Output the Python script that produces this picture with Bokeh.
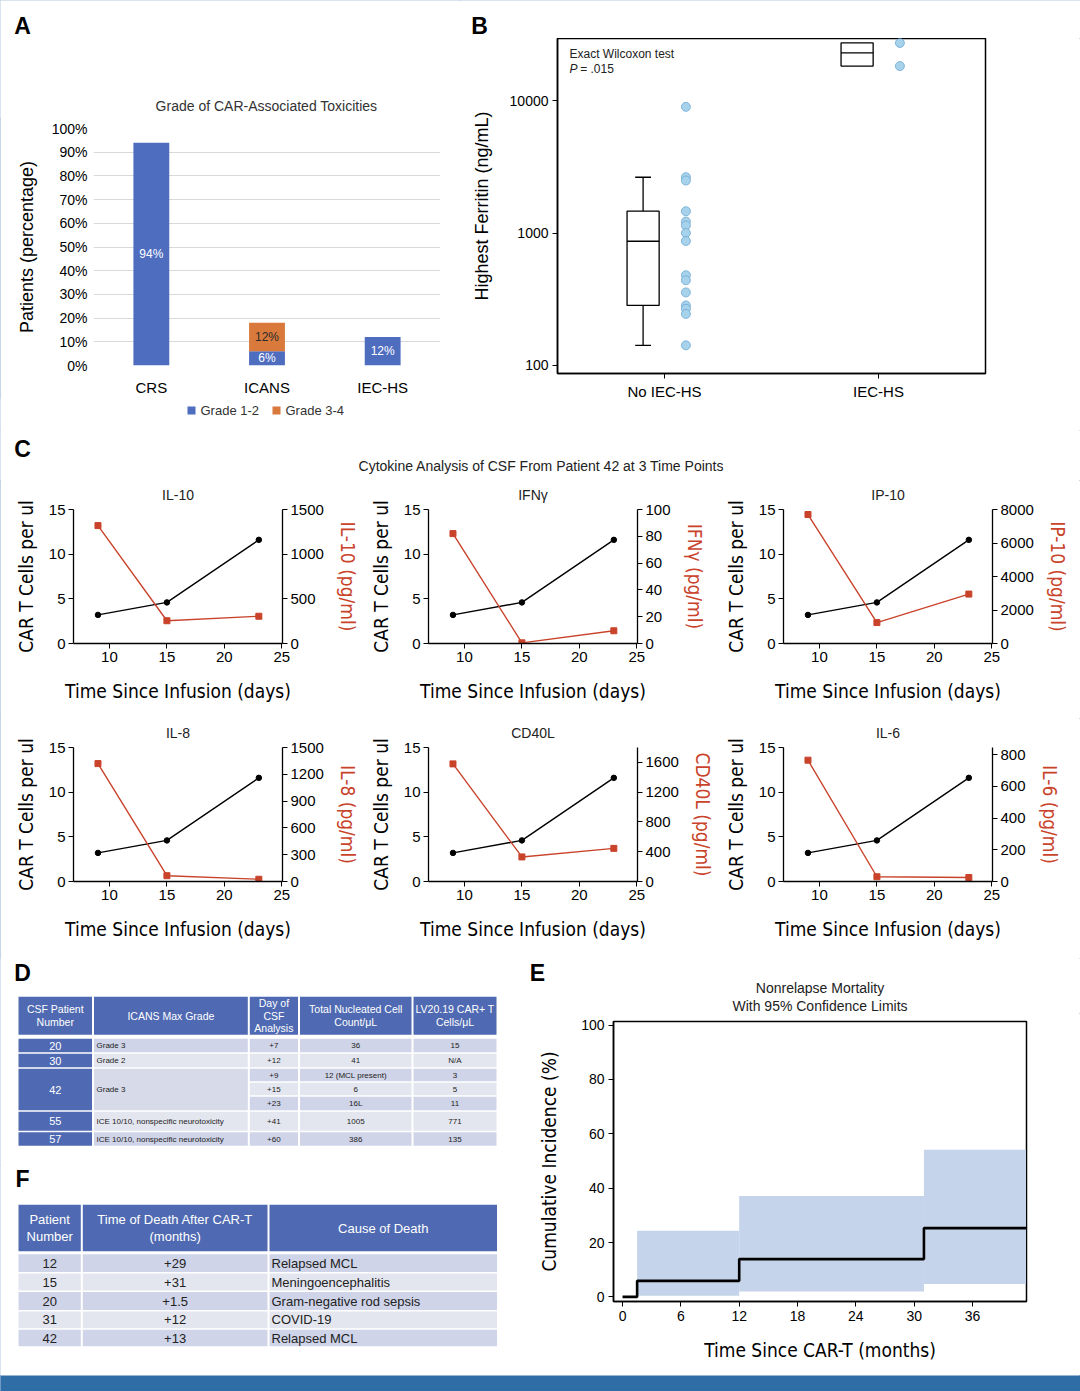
import numpy as np
from bokeh.plotting import figure
from bokeh.layouts import column, row
from bokeh.models import (ColumnDataSource, Range1d, FactorRange, LinearAxis, FixedTicker,
                          PrintfTickFormatter)
from bokeh.core.properties import value
from bokeh.embed import file_html
from bokeh.resources import INLINE

FONT = "Liberation Sans"
NARROW = "DejaVu Sans Condensed, Liberation Sans Narrow, Roboto, sans-serif"

"""Panel A: toxicity grades"""
toxicities = ["CRS", "ICANS", "IEC-HS"]
grade_names = ["Grade 1-2", "Grade 3-4"]
grade_1_2 = [94, 6, 12]
grade_3_4 = [0, 12, 0]

"""Panel B: highest ferritin"""
box_groups = ["No IEC-HS", "IEC-HS"]
ferritin_no_iec = [8960, 2640, 2490, 1460, 1220, 1140, 1000, 870, 480, 440, 356, 284, 268, 245, 142]
ferritin_iec = [27200, 18200]
box_q1 = [284, 18200]
box_median = [867, 22900]
box_q3 = [1462, 27200]
whisker_low = [142, None]
whisker_high = [2636, None]

"""Panel C: CSF cytokines of patient 42"""
days = [9, 15, 23]
car_t_cells = [3.2, 4.6, 11.6]
cytokine_names = ["IL-10", "IFNγ", "IP-10", "IL-8", "CD40L", "IL-6"]
il10 = [1320, 255, 305]
ifng = [82, 0.5, 9.5]
ip10 = [7700, 1250, 2950]
il8 = [1320, 65, 25]
cd40l = [1580, 330, 445]
il6 = [765, 30, 25]
cytokine_max = [1500, 100, 8000, 1500, 1800, 845]
cytokine_step = [500, 20, 2000, 300, 400, 200]

"""Panel D: CSF table"""
d_headers = ["CSF Patient\nNumber", "ICANS Max Grade", "Day of\nCSF\nAnalysis",
             "Total Nucleated Cell\nCount/μL", "LV20.19 CAR+ T\nCells/μL"]
d_patients = ["20", "30", "42", "55", "57"]
d_grades = ["Grade 3", "Grade 2", "Grade 3", "ICE 10/10, nonspecific neurotoxicity",
            "ICE 10/10, nonspecific neurotoxicity"]
d_samples = [1, 1, 3, 1, 1]
d_days = ["+7", "+12", "+9", "+15", "+23", "+41", "+60"]
d_nucleated = ["36", "41", "12 (MCL present)", "6", "16L", "1005", "386"]
d_car_t = ["15", "N/A", "3", "5", "11", "771", "135"]

"""Panel E: nonrelapse mortality"""
cif_time = [0, 1.5, 12, 31]
cif_value = [0, 5.9, 13.9, 25.3]
ci_lower = [0.4, 2.0, 4.7]
ci_upper = [24.3, 37.1, 54.1]
follow_up_end = 41.5

"""Panel F: deaths table"""
f_headers = ["Patient\nNumber", "Time of Death After CAR-T\n(months)", "Cause of Death"]
f_patients = ["12", "15", "20", "31", "42"]
f_time = ["+29", "+31", "+1.5", "+12", "+13"]
f_cause = ["Relapsed MCL", "Meningoencephalitis", "Gram-negative rod sepsis", "COVID-19", "Relapsed MCL"]

BLUE = "#4e6dbf"
ORANGE = "#d9793c"
RED = "#c9432b"
HEAD = "#4f6ab2"
ROW_DARK = "#cfd4e8"
ROW_LIGHT = "#e4e6ef"
ROW_MID = "#d6dae9"
BAND = "#c5d4ea"
STRIP = "#2f6da7"


def new_fig(w, h, **kw):
    p = figure(width=w, height=h, output_backend="svg", toolbar_location=None, **kw)
    p.background_fill_color = "white"
    p.border_fill_color = "white"
    p.frame_align = False
    return p


def text_fig(w, h):
    """plain figure with pixel coordinates (y downwards) for headings"""
    p = new_fig(w, h, x_range=Range1d(0, w), y_range=Range1d(h, 0),
                x_axis_type=None, y_axis_type=None, min_border=0)
    p.outline_line_color = None
    p.grid.grid_line_color = None
    return p


def put(p, x, y, s, size="14px", align="center", style="normal", color="#222"):
    p.text(x=[x], y=[y], text=[s], text_font=value(FONT), text_font_size=size, text_align=align,
           text_baseline="middle", text_font_style=style, text_color=color)


def style_axis(ax, tick="14px", label="19px", label_font=FONT, color="black"):
    ax.major_label_text_font = FONT
    ax.major_label_text_font_size = tick
    ax.major_label_text_color = "black"
    ax.axis_label_text_font = label_font
    ax.axis_label_text_font_size = label
    ax.axis_label_text_font_style = "normal"
    ax.axis_label_text_color = color
    ax.minor_tick_line_color = None


"""A: stacked bars"""
ha = text_fig(460, 118)
put(ha, 22, 25, "A", size="23px", style="bold", color="black")
put(ha, 266, 105, "Grade of CAR-Associated Toxicities", size="14px", color="#333")

pa = new_fig(460, 280, x_range=FactorRange(*toxicities), y_range=Range1d(0, 100),
             min_border_left=93, min_border_right=20, min_border_top=10, min_border_bottom=25)
src_a = ColumnDataSource(dict(cat=toxicities, g12=grade_1_2, g34=grade_3_4))
pa.vbar_stack(["g12", "g34"], x="cat", width=0.31, color=[BLUE, ORANGE], source=src_a, line_color=None)
lab_x, lab_y, lab_t, lab_c = [], [], [], []
for c, a, b in zip(toxicities, grade_1_2, grade_3_4):
    if a > 0:
        lab_x.append(c); lab_y.append(a / 2); lab_t.append(f"{a}%"); lab_c.append("white")
    if b > 0:
        lab_x.append(c); lab_y.append(a + b / 2); lab_t.append(f"{b}%"); lab_c.append("#2a2a2a")
pa.text(x=lab_x, y=lab_y, text=lab_t, text_color=lab_c, text_align="center", text_baseline="middle",
        text_font=value(FONT), text_font_size="12px")
pa.xgrid.grid_line_color = None
pa.ygrid.grid_line_color = "#d9d9d9"
pa.ygrid.grid_line_width = 1.2
pa.outline_line_color = None
pa.yaxis.ticker = FixedTicker(ticks=list(range(0, 101, 10)))
pa.yaxis.formatter = PrintfTickFormatter(format="%d%%")
pa.yaxis.axis_label = "Patients (percentage)"
for ax in pa.xaxis + pa.yaxis:
    style_axis(ax, tick="14px", label="18px")
    ax.axis_line_color = None
    ax.major_tick_line_color = None
pa.yaxis.major_tick_out = 0
pa.yaxis.major_tick_in = 0
pa.yaxis.axis_label_standoff = 12
pa.yaxis.major_label_standoff = 6
pa.xaxis.major_label_text_font_size = "15px"
pa.xaxis.major_label_standoff = 7

"""A legend strip"""
la = text_fig(460, 32)
LEG_X = [191, 276]
la.scatter(x=LEG_X, y=[12, 12], marker="square", size=8, color=[BLUE, ORANGE], line_color=None)
la.text(x=[lx + 9 for lx in LEG_X], y=[12, 12], text=grade_names, text_font=value(FONT),
        text_font_size="13px", text_baseline="middle", text_color="#333")

"""B: ferritin box plot"""
hb = text_fig(620, 38)
put(hb, 19, 25, "B", size="23px", style="bold", color="black")

pb = new_fig(620, 392, x_range=Range1d(0.5, 2.5), y_range=Range1d(87, 29400), y_axis_type="log",
             min_border_left=97, min_border_right=95, min_border_top=0, min_border_bottom=57)
pos = np.arange(1, len(box_groups) + 1)
box_x = pos - 0.1
pb.vbar(x=box_x, bottom=box_q1, top=box_q3, width=0.15, fill_color="white",
        line_color="black", line_width=1.3)
pb.segment(x0=box_x - 0.075, x1=box_x + 0.075, y0=box_median, y1=box_median,
           line_color="black", line_width=1.3)
for i, (lo, hi) in enumerate(zip(whisker_low, whisker_high)):
    if lo is None:
        continue
    pb.segment(x0=[box_x[i]] * 2, x1=[box_x[i]] * 2, y0=[box_q3[i], box_q1[i]], y1=[hi, lo],
               line_color="black", line_width=1.3)
    pb.segment(x0=[box_x[i] - 0.037] * 2, x1=[box_x[i] + 0.037] * 2, y0=[hi, lo], y1=[hi, lo],
               line_color="black", line_width=1.3)
for i, vals in enumerate([ferritin_no_iec, ferritin_iec]):
    pb.scatter(x=[pos[i] + 0.1] * len(vals), y=vals, size=9, fill_color="#a6d2ec",
               line_color="#6fa8d0", line_width=0.8)
pb.text(x=[0.556], y=[22650], text=["Exact Wilcoxon test"], text_font=value(FONT),
        text_font_size="12px", text_baseline="middle", text_color="#222")
pb.text(x=[0.556], y=[17440], text=["P"], text_font=value(FONT), text_font_size="12px",
        text_font_style="italic", text_baseline="middle", text_color="#222")
pb.text(x=[0.606], y=[17440], text=["= .015"], text_font=value(FONT), text_font_size="12px",
        text_baseline="middle", text_color="#222")
pb.grid.grid_line_color = None
pb.outline_line_color = "black"
pb.outline_line_width = 1.5
pb.xaxis.ticker = FixedTicker(ticks=list(pos))
pb.xaxis.major_label_overrides = {int(k): g for k, g in zip(pos, box_groups)}
pb.yaxis.ticker = FixedTicker(ticks=[100, 1000, 10000], minor_ticks=[])
pb.yaxis.formatter = PrintfTickFormatter(format="%d")
pb.yaxis.axis_label = "Highest Ferritin (ng/mL)"
for ax in pb.xaxis + pb.yaxis:
    style_axis(ax, tick="14px", label="18px")
    ax.axis_line_width = 1.5
    ax.major_tick_out = 5
    ax.major_tick_in = 0
    ax.major_label_standoff = 4
pb.xaxis.major_label_text_font_size = "15px"
pb.yaxis.axis_label_standoff = 15

"""C: cytokine panels"""
C_LEFT = [73, 65, 65]
C_RIGHT = [81, 81, 88]
C_FRAME_W = 209

hc = text_fig(1080, 50)
put(hc, 22, 18, "C", size="23px", style="bold", color="black")
put(hc, 541, 35, "Cytokine Analysis of CSF From Patient 42 at 3 Time Points", size="14px")


def cytokine_plot(name, conc, ymax, step, left, right, h):
    w = left + C_FRAME_W + right
    p = new_fig(w, h, x_range=Range1d(6.87, 25.06), y_range=Range1d(0, 15),
                min_border_left=left, min_border_right=right,
                min_border_top=28, min_border_bottom=h - 28 - 135)
    p.title.text = name
    p.title.align = "center"
    p.title.vertical_align = "middle"
    p.title.standoff = 11
    p.title.text_font = FONT
    p.title.text_font_size = "14px"
    p.title.text_font_style = "normal"
    p.title.text_color = "#222"
    p.extra_y_ranges = {"cyto": Range1d(0, ymax)}
    rax = LinearAxis(y_range_name="cyto", ticker=FixedTicker(ticks=list(range(0, int(ymax) + 1, step))),
                     axis_label=f"{name} (pg/ml)")
    p.add_layout(rax, "right")
    p.line(days, car_t_cells, color="black", line_width=1.4)
    p.scatter(days, car_t_cells, size=5.5, color="black")
    p.line(days, conc, color=RED, line_width=1.4, y_range_name="cyto")
    p.scatter(days, conc, marker="square", size=6, color=RED, y_range_name="cyto")
    p.grid.grid_line_color = None
    p.outline_line_color = None
    p.xaxis.ticker = FixedTicker(ticks=[10, 15, 20, 25])
    p.left[0].ticker = FixedTicker(ticks=[0, 5, 10, 15])
    p.xaxis.axis_label = "Time Since Infusion (days)"
    p.left[0].axis_label = "CAR T Cells per ul"
    for ax in [p.below[0], p.left[0], rax]:
        style_axis(ax, tick="15px", label="19px", label_font=NARROW)
        ax.axis_line_width = 1.3
        ax.major_tick_out = 5
        ax.major_tick_in = 0
        ax.major_label_standoff = 3
        ax.axis_label_standoff = 10
    p.below[0].axis_label_standoff = 15
    p.left[0].axis_label_standoff = 9
    rax.axis_label_text_color = RED
    return p


conc_list = [il10, ifng, ip10, il8, cd40l, il6]
c_plots = []
for k, (nm, cv, mx, st) in enumerate(zip(cytokine_names, conc_list, cytokine_max, cytokine_step)):
    col = k % 3
    h = 238 if k < 3 else 240
    c_plots.append(cytokine_plot(nm, cv, mx, st, C_LEFT[col], C_RIGHT[col], h))

"""D: CSF table"""
D_COLS = [17, 92.5, 248.3, 298.5, 412, 497]
D_HEAD = (37.5, 77)
D_ROWS = [79.5, 94.5, 109.5, 123.5, 137.5, 152.5, 173, 188]
G = 1.0
pd_ = text_fig(520, 207)
q = dict(left=[], right=[], top=[], bottom=[], color=[])
t = dict(x=[], y=[], text=[], color=[], size=[], align=[])


def cell(store, l, r, tp, bt, col):
    store["left"].append(l + G); store["right"].append(r - G)
    store["top"].append(tp + G * 0.7); store["bottom"].append(bt - G * 0.7); store["color"].append(col)


def txt(store, x, y, s, col, size, align="center"):
    store["x"].append(x); store["y"].append(y); store["text"].append(s)
    store["color"].append(col); store["size"].append(size); store["align"].append(align)


for j, hd in enumerate(d_headers):
    cell(q, D_COLS[j], D_COLS[j + 1], D_HEAD[0], D_HEAD[1], HEAD)
    txt(t, (D_COLS[j] + D_COLS[j + 1]) / 2, sum(D_HEAD) / 2, hd, "white", "10.5px")
r0 = 0
for pid, grade, n in zip(d_patients, d_grades, d_samples):
    tp, bt = D_ROWS[r0], D_ROWS[r0 + n]
    cell(q, D_COLS[0], D_COLS[1], tp, bt, HEAD)
    txt(t, (D_COLS[0] + D_COLS[1]) / 2, (tp + bt) / 2, pid, "white", "11px")
    shade = ROW_MID if n > 1 else (ROW_DARK if r0 % 2 == 0 else ROW_LIGHT)
    cell(q, D_COLS[1], D_COLS[2], tp, bt, shade)
    txt(t, D_COLS[1] + 3.5, (tp + bt) / 2, grade, "#222", "8px", "left")
    r0 += n
for i, cols in enumerate(zip(d_days, d_nucleated, d_car_t)):
    tp, bt = D_ROWS[i], D_ROWS[i + 1]
    shade = ROW_DARK if i % 2 == 0 else ROW_LIGHT
    for j, s in enumerate(cols):
        cell(q, D_COLS[j + 2], D_COLS[j + 3], tp, bt, shade)
        txt(t, (D_COLS[j + 2] + D_COLS[j + 3]) / 2, (tp + bt) / 2, s, "#222", "8px")
pd_.quad(left="left", right="right", top="top", bottom="bottom", color="color",
         source=ColumnDataSource(q), line_color=None)
pd_.text(x="x", y="y", text="text", text_color="color", text_font_size="size", text_align="align",
         text_baseline="middle", text_font=value(FONT), text_line_height=1.05, source=ColumnDataSource(t))
put(pd_, 22, 14, "D", size="23px", style="bold", color="black")

"""F: deaths table"""
F_COLS = [17, 81.3, 268, 497.5]
F_HEAD = (38.5, 86.5)
F_ROWS = [88, 107.3, 125.8, 145.2, 163.5, 181.5]
pf = text_fig(520, 210)
q = dict(left=[], right=[], top=[], bottom=[], color=[])
t = dict(x=[], y=[], text=[], color=[], size=[], align=[])
for j, hd in enumerate(f_headers):
    cell(q, F_COLS[j], F_COLS[j + 1], F_HEAD[0], F_HEAD[1], HEAD)
    txt(t, (F_COLS[j] + F_COLS[j + 1]) / 2, sum(F_HEAD) / 2, hd, "white", "13px")
for i, (pid, tm, cause) in enumerate(zip(f_patients, f_time, f_cause)):
    tp, bt = F_ROWS[i], F_ROWS[i + 1]
    shade = ROW_DARK if i % 2 == 0 else ROW_LIGHT
    for j in range(3):
        cell(q, F_COLS[j], F_COLS[j + 1], tp, bt, shade)
    ym = (tp + bt) / 2
    txt(t, (F_COLS[0] + F_COLS[1]) / 2, ym, pid, "#222", "13px")
    txt(t, (F_COLS[1] + F_COLS[2]) / 2, ym, tm, "#222", "13px")
    txt(t, F_COLS[2] + 3, ym, cause, "#222", "13px", "left")
pf.quad(left="left", right="right", top="top", bottom="bottom", color="color",
        source=ColumnDataSource(q), line_color=None)
pf.text(x="x", y="y", text="text", text_color="color", text_font_size="size", text_align="align",
        text_baseline="middle", text_font=value(FONT), text_line_height=1.15, source=ColumnDataSource(t))
put(pf, 22, 13, "F", size="23px", style="bold", color="black")

"""E: cumulative incidence"""
he = text_fig(560, 55)
put(he, 17, 14, "E", size="23px", style="bold", color="black")
put(he, 299.5, 29, "Nonrelapse Mortality", size="14px")
put(he, 299.5, 47, "With 95% Confidence Limits", size="14px")

pe = new_fig(560, 362, x_range=Range1d(-0.93, 41.55), y_range=Range1d(-1.7, 101.3),
             min_border_left=93, min_border_right=54, min_border_top=8, min_border_bottom=74)
pe.quad(left=cif_time[1:], right=cif_time[2:] + [follow_up_end], bottom=ci_lower, top=ci_upper,
        color=BAND, line_color=None)
pe.step(x=cif_time + [follow_up_end], y=cif_value + [cif_value[-1]], mode="after",
        line_color="black", line_width=2.6)
pe.grid.grid_line_color = None
pe.outline_line_color = "black"
pe.outline_line_width = 1.5
pe.xaxis.ticker = FixedTicker(ticks=list(range(0, 37, 6)))
pe.yaxis.ticker = FixedTicker(ticks=list(range(0, 101, 20)))
pe.xaxis.axis_label = "Time Since CAR-T (months)"
pe.yaxis.axis_label = "Cumulative Incidence (%)"
for ax in pe.xaxis + pe.yaxis:
    style_axis(ax, tick="14px", label="19px", label_font=NARROW)
    ax.axis_line_width = 1.5
    ax.major_tick_out = 5
    ax.major_tick_in = 0
    ax.major_label_standoff = 4
    ax.axis_label_standoff = 15
pe.yaxis.axis_label_standoff = 18

"""bottom strip"""
ps = new_fig(1080, 16, x_axis_type=None, y_axis_type=None, min_border=0)
ps.background_fill_color = STRIP
ps.border_fill_color = STRIP
ps.outline_line_color = None
ps.grid.grid_line_color = None

layout = column(row(column(ha, pa, la), column(hb, pb)), hc, row(*c_plots[:3]), row(*c_plots[3:]),
                row(column(pd_, pf), column(he, pe)), ps,
                styles={"outline": "1px solid #b3c8e0", "outline-offset": "-1px"})
open("out.html", "w").write(file_html(layout, INLINE))
